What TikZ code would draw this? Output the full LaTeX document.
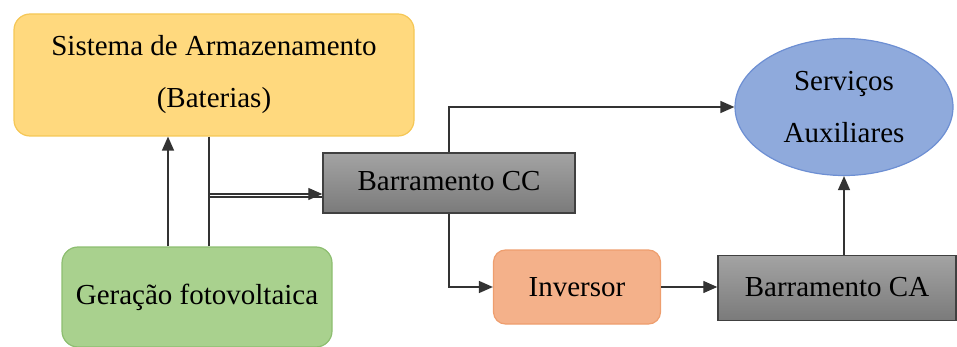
\documentclass[tikz,border=0pt]{standalone}
\usepackage{fontspec}
\setmainfont{Liberation Serif}
\usetikzlibrary{arrows.meta,shapes.geometric}

\definecolor{armfill}{HTML}{FFD97E}
\definecolor{armline}{HTML}{F5C756}
\definecolor{gerfill}{HTML}{A9D18E}
\definecolor{gerline}{HTML}{8DBE70}
\definecolor{servfill}{HTML}{8FAADC}
\definecolor{servline}{HTML}{6D8FD3}
\definecolor{invfill}{HTML}{F4B18A}
\definecolor{invline}{HTML}{EE9E6E}
\definecolor{wire}{HTML}{333333}

\tikzset{
  bloco/.style={draw, line width=1.2pt, rounded corners=16pt, align=center,
    inner sep=0pt, font=\fontsize{29}{52}\selectfont},
  barra/.style={draw=black!75, line width=1.5pt, top color=black!36,
    bottom color=black!52, inner sep=0pt, font=\fontsize{29}{35}\selectfont},
  fio/.style={draw=wire, line width=1.4pt},
  seta/.style={fio, -{Triangle[length=14pt,width=12pt]}}
}

\begin{document}
\begin{tikzpicture}[x=1pt,y=-1pt]
  \useasboundingbox (0,0) rectangle (957,347);

  % blocos
  \node[bloco, fill=armfill, draw=armline, minimum width=400pt, minimum height=122pt]
    (arm) at (214,75) {Sistema de Armazenamento\\(Baterias)};
  \node[bloco, fill=gerfill, draw=gerline, minimum width=270pt, minimum height=100pt]
    (ger) at (197,297) {Geração fotovoltaica};
  \node[bloco, fill=invfill, draw=invline, rounded corners=12pt,
    minimum width=167pt, minimum height=74pt] (inv) at (577,287) {Inversor};
  \node[ellipse, draw=servline, fill=servfill, line width=1.2pt, align=center,
    inner sep=0pt, minimum width=218pt, minimum height=137pt,
    font=\fontsize{29}{52}\selectfont] (serv) at (844,107) {Serviços\\Auxiliares};

  % barramentos
  \node[barra, minimum width=252pt, minimum height=60pt] (cc) at (449,183)
    {\raisebox{4pt}{Barramento CC}};
  \node[barra, minimum width=238pt, minimum height=65pt] (ca) at (837,288)
    {\raisebox{3pt}{Barramento CA}};

  % ligacoes
  \coordinate (xup) at (168,0);
  \coordinate (jn) at (209,195.5);
  \draw[seta] (ger.north -| xup) -- (arm.south -| xup);
  \draw[fio] (arm.south -| jn) -- ([yshift=-1.5pt]jn) -- ([yshift=-1.5pt]jn -| cc.west);
  \draw[seta] (ger.north -| jn) -- ([yshift=1.5pt]jn) -- ([yshift=1.5pt]jn -| cc.west);
  \draw[seta] (cc.north) |- (serv.west);
  \draw[seta] (cc.south) |- (inv.west);
  \draw[seta] (inv.east) -- (inv.east -| ca.west);
  \draw[seta] (ca.north -| serv.south) -- (serv.south);
\end{tikzpicture}
\end{document}
